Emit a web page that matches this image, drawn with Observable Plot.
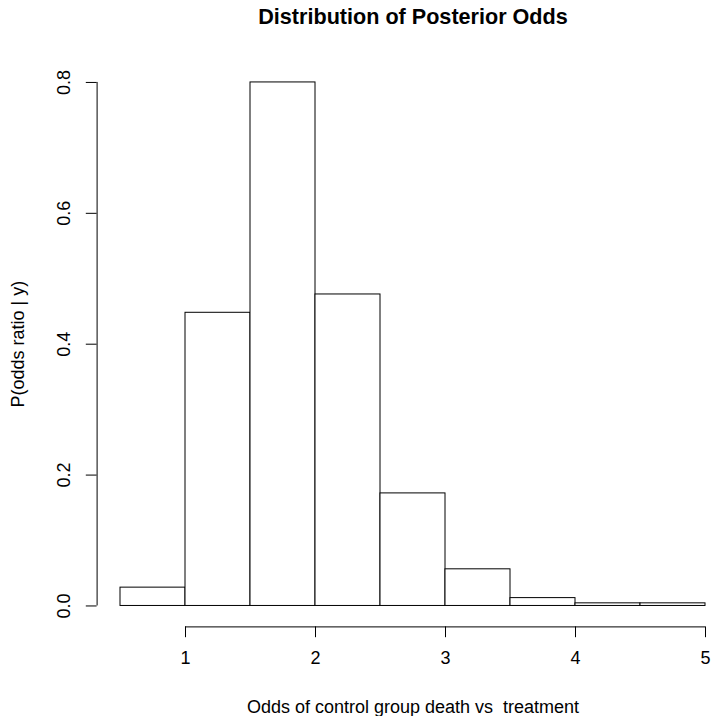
<!DOCTYPE html>
<html>
<head>
<meta charset="utf-8">
<script src="https://cdn.jsdelivr.net/npm/d3@7"></script>
<script src="https://cdn.jsdelivr.net/npm/@observablehq/plot@0.6"></script>
<style>
  html, body { margin: 0; padding: 0; background: #ffffff; }
  svg text { white-space: pre; }
</style>
</head>
<body>
<div id="chart"></div>
<script>
// ---- data ----
const binStart = [0.5, 1.0, 1.5, 2.0, 2.5, 3.0, 3.5, 4.0, 4.5];
const binEnd   = [1.0, 1.5, 2.0, 2.5, 3.0, 3.5, 4.0, 4.5, 5.0];
const density  = [0.028, 0.448, 0.800, 0.476, 0.172, 0.056, 0.012, 0.004, 0.004];

const xTicks = [1, 2, 3, 4, 5];
const yTicks = [0, 0.2, 0.4, 0.6, 0.8];

const titleText = "Distribution of Posterior Odds";
const xLabelText = "Odds of control group death vs  treatment";
const yLabelText = "P(odds ratio | y)";

// R-style extended limits (4% padding)
const xLim = [0.32, 5.18];
const yLim = [-0.032, 0.832];
const xCenter = (xLim[0] + xLim[1]) / 2;

const bars = binStart.map((s, i) => ({x1: s, x2: binEnd[i], y: density[i]}));

const W = 711, H = 716;
const mLeft = 96.6, mTop = 61, mBottom = 89.6;
// R's plot region would end at 728.4px; the picture is cropped at 711px
const rRegionRight = 728.4;
const xRightVisible = xLim[0] + (W - mLeft) * (xLim[1] - xLim[0]) / (rRegionRight - mLeft);

const fontFamily = "'Liberation Sans', Arial, Helvetica, sans-serif";
const tick = 10.8;

const chart = Plot.plot({
  width: W,
  height: H,
  marginLeft: mLeft,
  marginRight: 0,
  marginTop: mTop,
  marginBottom: mBottom,
  x: {domain: [xLim[0], xRightVisible]},
  y: {domain: yLim},
  style: {fontFamily, fontSize: "18px", background: "#ffffff", color: "#000000"},
  marks: [
    Plot.rectY(bars, {x1: "x1", x2: "x2", y1: 0, y2: "y", fill: "white", stroke: "black", strokeWidth: 1}),
    // y axis line and ticks
    Plot.ruleX([xLim[0]], {y1: yTicks[0], y2: yTicks[yTicks.length - 1], stroke: "black"}),
    Plot.axisY({ticks: yTicks, tickSize: tick, tickFormat: () => "", label: null, stroke: "black"}),
    Plot.text(yTicks, {y: d => d, frameAnchor: "left", text: d => d.toFixed(1), rotate: -90,
      dx: -32.6, textAnchor: "middle", lineAnchor: "middle", fontSize: 18, fill: "black"}),
    // x axis line and ticks
    Plot.ruleY([yLim[0]], {x1: xTicks[0], x2: xTicks[xTicks.length - 1], stroke: "black"}),
    Plot.axisX({ticks: xTicks, tickSize: tick, tickFormat: () => "", label: null, stroke: "black"}),
    Plot.text(xTicks, {x: d => d, frameAnchor: "bottom", text: d => String(d), dy: 31.6,
      textAnchor: "middle", lineAnchor: "middle", fontSize: 18, fill: "black"}),
    // axis titles
    Plot.text([xLabelText], {x: () => xCenter, frameAnchor: "bottom", text: d => d, dy: 80.6,
      textAnchor: "middle", lineAnchor: "middle", fontSize: 18, fill: "black"}),
    Plot.text([yLabelText], {frameAnchor: "left", text: d => d, dx: -78.6, rotate: -90,
      textAnchor: "middle", lineAnchor: "middle", fontSize: 18, fill: "black"}),
    // main title
    Plot.text([titleText], {x: () => xCenter, frameAnchor: "top", text: d => d, dy: -44,
      textAnchor: "middle", lineAnchor: "middle", fontSize: 21.6, fontWeight: "bold", fill: "black"})
  ]
});

document.getElementById("chart").appendChild(chart);
</script>
</body>
</html>
